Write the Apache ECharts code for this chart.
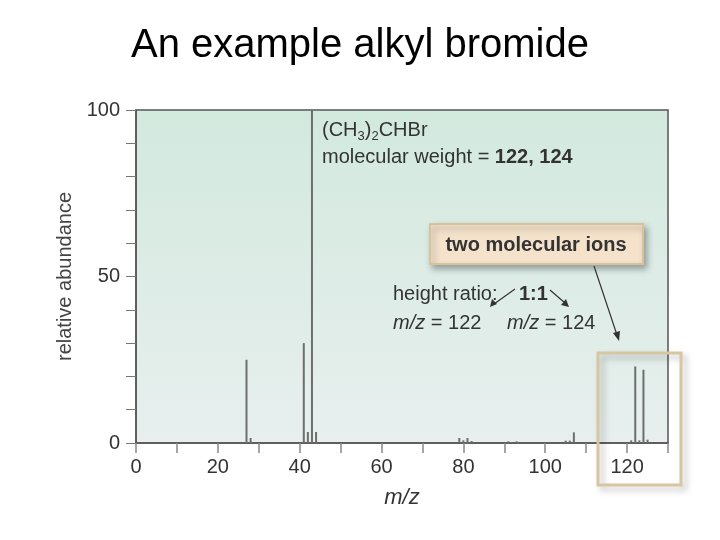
<!DOCTYPE html>
<html>
<head>
<meta charset="utf-8">
<script src="https://cdn.jsdelivr.net/npm/echarts@6/dist/echarts.min.js"></script>
<style>
  html, body { margin: 0; padding: 0; background: #fff; }
  #chart { width: 720px; height: 540px; }
</style>
</head>
<body>
<div id="chart"></div>
<script>
// m/z 值与相对丰度
const mzValues = [27, 28, 41, 42, 43, 44, 79, 80, 81, 82, 91, 93, 105, 106, 107, 121, 122, 123, 124, 125];
const abundance = [25, 1.5, 30, 3.3, 100, 3.3, 1.5, 0.8, 1.5, 0.6, 0.5, 0.5, 0.7, 0.7, 3.2, 0.8, 23, 0.8, 22, 1];
const xTicks = [0, 20, 40, 60, 80, 100, 120];
const yTicks = [0, 50, 100];

const chart = echarts.init(document.getElementById('chart'));
const fontFamily = '"Liberation Sans", Arial, sans-serif';
const textColor = '#333';

// 注释文字的通用样式
function note(left, cy, text) {
  return {
    type: 'text', left: left, top: cy - 13, z: 10,
    style: {
      text: text,
      font: '20px ' + fontFamily,
      fill: textColor,
      lineHeight: 26,
      rich: {
        sub: { fontSize: 13, lineHeight: 13, fontFamily: fontFamily, fill: textColor, verticalAlign: 'bottom' },
        b: { fontSize: 20, lineHeight: 26, fontFamily: fontFamily, fontWeight: 'bold', fill: textColor },
        i: { fontSize: 20, lineHeight: 26, fontFamily: fontFamily, fontStyle: 'italic', fill: textColor }
      }
    }
  };
}

const option = {
  animation: false,
  title: {
    text: 'An example alkyl bromide',
    left: 'center',
    top: 21,
    textStyle: { fontFamily: fontFamily, fontSize: 40, fontWeight: 'normal', color: '#000' }
  },
  grid: {
    left: 136, right: 52, top: 110, bottom: 97,
    show: true,
    borderColor: '#555',
    borderWidth: 1.5,
    backgroundColor: new echarts.graphic.LinearGradient(0, 0, 0, 1, [
      { offset: 0, color: '#d2e9de' },
      { offset: 1, color: '#e8efee' }
    ])
  },
  xAxis: {
    type: 'value',
    min: 0, max: 130, interval: 10,
    name: 'm/z',
    nameLocation: 'middle',
    nameGap: 44,
    nameTextStyle: { fontFamily: fontFamily, fontSize: 22, fontStyle: 'italic', color: textColor },
    axisLine: { lineStyle: { color: '#555', width: 1.5 } },
    axisTick: { length: 10, lineStyle: { color: '#888', width: 1.5 } },
    splitLine: { show: false },
    axisLabel: {
      fontFamily: fontFamily, fontSize: 20, color: textColor, margin: 14,
      formatter: v => (xTicks.indexOf(v) >= 0 ? String(v) : '')
    }
  },
  yAxis: {
    type: 'value',
    min: 0, max: 100, interval: 10,
    name: 'relative abundance',
    nameLocation: 'middle',
    nameGap: 54,
    nameTextStyle: { fontFamily: fontFamily, fontSize: 20, color: '#444' },
    axisLine: { show: true, lineStyle: { color: '#555', width: 1.5 } },
    axisTick: { show: true, length: 10, lineStyle: { color: '#777', width: 1 } },
    splitLine: { show: false },
    axisLabel: {
      fontFamily: fontFamily, fontSize: 20, color: textColor, margin: 16,
      formatter: v => (yTicks.indexOf(v) >= 0 ? String(v) : '')
    }
  },
  series: [{
    type: 'bar',
    barWidth: 2,
    itemStyle: { color: '#6d6f6e' },
    data: mzValues.map((m, i) => [m, abundance[i]])
  }],
  graphic: [
    note(322, 130, '(CH{sub|3}){sub|2}CHBr'),
    note(322, 157, 'molecular weight = {b|122, 124}'),
    // two molecular ions 标签框
    {
      type: 'rect', z: 10,
      shape: { x: 430, y: 224, width: 213, height: 40 },
      style: {
        fill: '#f4e2cb', stroke: '#d8c29c', lineWidth: 2,
        shadowBlur: 6, shadowOffsetX: 3, shadowOffsetY: 4, shadowColor: 'rgba(0,0,0,0.3)'
      }
    },
    {
      type: 'text', x: 536, y: 245, z: 11,
      style: {
        text: 'two molecular ions',
        font: 'bold 20px ' + fontFamily,
        fill: textColor, align: 'center', verticalAlign: 'middle'
      }
    },
    note(393, 294, 'height ratio:'),
    note(519, 294, '{b|1:1}'),
    note(393, 323, '{i|m/z} = 122'),
    note(507, 323, '{i|m/z} = 124'),
    // 箭头
    { type: 'line', z: 10, shape: { x1: 515, y1: 289, x2: 494, y2: 304 }, style: { stroke: '#333', lineWidth: 1.2 } },
    { type: 'polygon', z: 10, shape: { points: [[490, 307], [492, 299], [497, 304]] }, style: { fill: '#333' } },
    { type: 'line', z: 10, shape: { x1: 550, y1: 290, x2: 565, y2: 303 }, style: { stroke: '#333', lineWidth: 1.2 } },
    { type: 'polygon', z: 10, shape: { points: [[569, 307], [561, 305], [566, 299]] }, style: { fill: '#333' } },
    { type: 'line', z: 10, shape: { x1: 594, y1: 266, x2: 617, y2: 335 }, style: { stroke: '#333', lineWidth: 1.2 } },
    { type: 'polygon', z: 10, shape: { points: [[619, 341], [613, 333], [620, 331]] }, style: { fill: '#333' } },
    // 分子离子区域框
    {
      type: 'rect', z: 9,
      shape: { x: 598, y: 353, width: 83, height: 132 },
      style: {
        fill: 'none', stroke: '#d8c6a2', lineWidth: 3,
        shadowBlur: 6, shadowOffsetX: 4, shadowOffsetY: 4, shadowColor: 'rgba(0,0,0,0.25)'
      }
    }
  ]
};

chart.setOption(option);
</script>
</body>
</html>
